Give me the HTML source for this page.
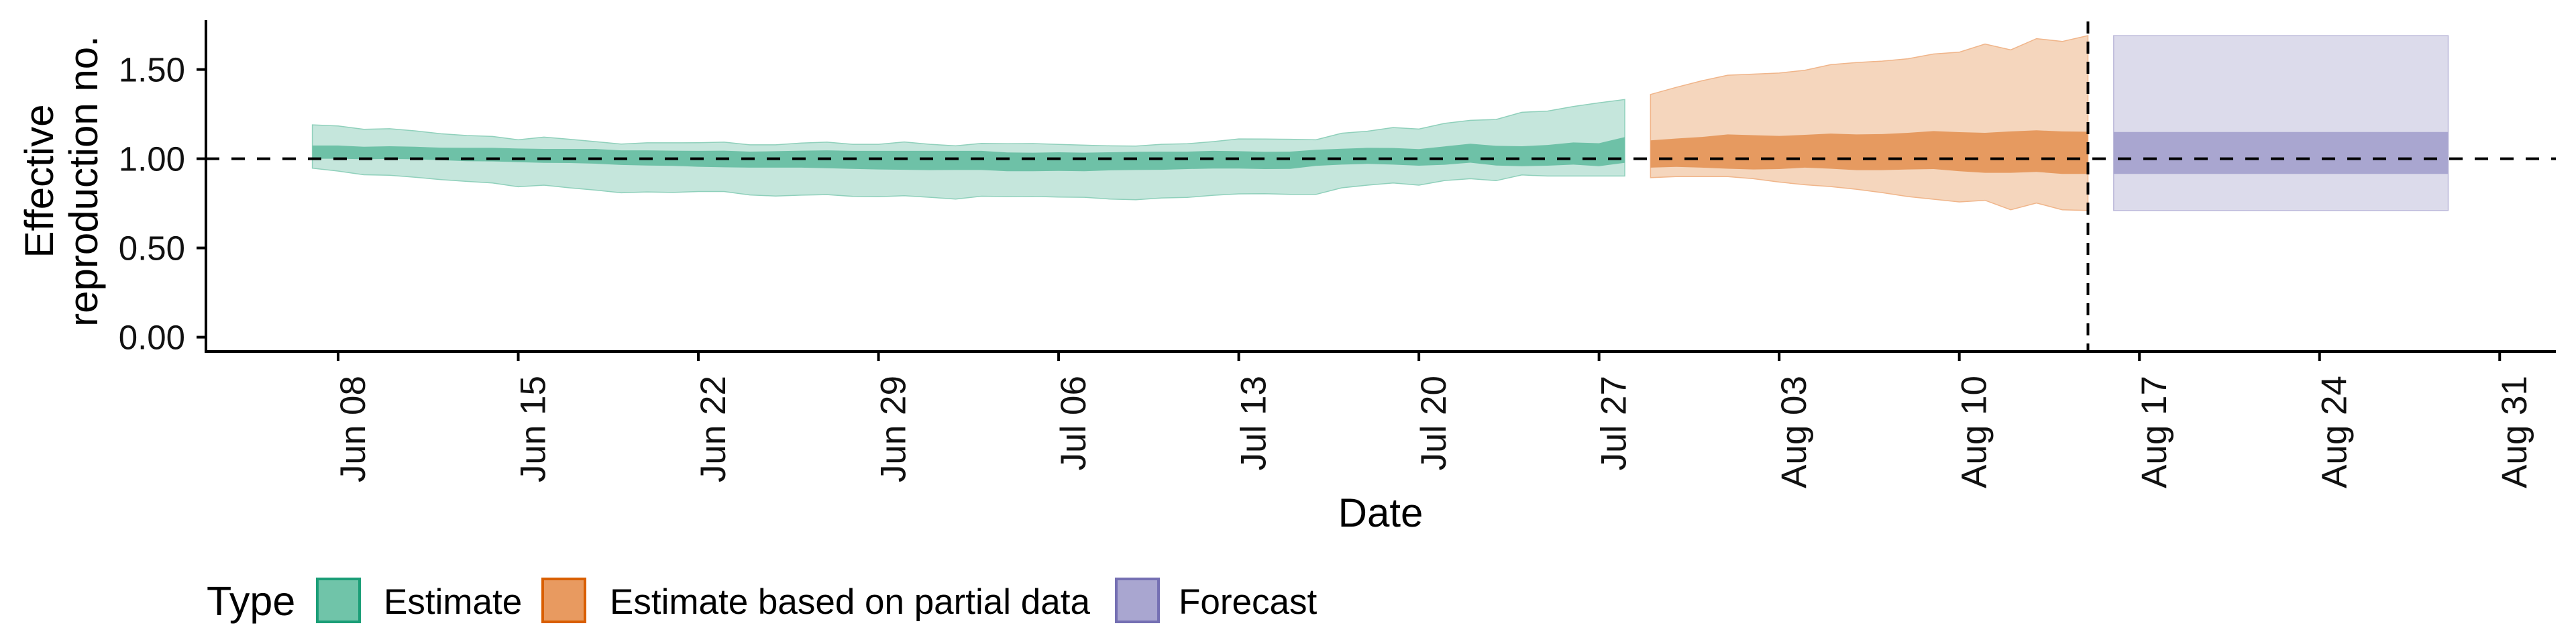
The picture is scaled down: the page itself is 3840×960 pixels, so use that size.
<!DOCTYPE html>
<html><head><meta charset="utf-8"><style>
html,body{margin:0;padding:0;background:#fff;}
svg{display:block;font-family:"Liberation Sans",sans-serif;}
</style></head><body>
<svg id="chart" width="3840" height="960" viewBox="0 0 3840 960" xmlns="http://www.w3.org/2000/svg">
<g id="bands"></g>
<g id="axes"></g>
<text x="2058" y="785" font-size="60" text-anchor="middle">Date</text>
<text transform="translate(79,270) rotate(-90)" font-size="60" text-anchor="middle">Effective</text>
<text transform="translate(145,270) rotate(-90)" font-size="60" text-anchor="middle">reproduction no.</text>
<g>
<text x="308" y="917" font-size="61">Type</text>
<rect x="473" y="863" width="63" height="64" fill="#70c4a9" stroke="#1b9e77" stroke-width="4"/>
<text x="572" y="915" font-size="53">Estimate</text>
<rect x="809" y="863" width="63" height="64" fill="#e89a60" stroke="#d95f02" stroke-width="4"/>
<text x="909" y="915" font-size="53">Estimate based on partial data</text>
<rect x="1664" y="863" width="63" height="64" fill="#a9a6d0" stroke="#7570b3" stroke-width="4"/>
<text x="1757" y="915" font-size="53">Forecast</text>
</g>
</svg>
<script>
// days since Jun 08
const estDays = [];
for (let d = -1; d <= 50; d++) estDays.push(d);
const estUpper90 = [1.190,1.184,1.165,1.168,1.156,1.140,1.130,1.125,1.106,1.121,1.109,1.096,1.082,1.089,1.089,1.090,1.093,1.078,1.078,1.088,1.093,
 1.081,1.081,1.094,1.081,1.072,1.086,1.084,1.085,1.080,1.076,1.072,1.071,1.081,1.084,1.096,1.111,1.110,1.109,1.106,1.143,1.154,1.175,1.166,1.198,1.215,1.220,1.260,1.267,1.293,1.313,1.332];
const estUpper50 = [1.074,1.074,1.067,1.070,1.067,1.062,1.061,1.061,1.057,1.055,1.055,1.055,1.047,1.047,1.045,1.044,1.045,1.040,1.042,1.045,1.047,
 1.044,1.044,1.044,1.044,1.044,1.044,1.035,1.034,1.036,1.034,1.036,1.039,1.040,1.040,1.044,1.042,1.039,1.040,1.050,1.056,1.061,1.060,1.054,1.069,1.084,1.072,1.070,1.077,1.091,1.087,1.121];
const estLower50 = [1.000,1.000,0.997,0.999,0.997,0.992,0.986,0.985,0.981,0.977,0.976,0.972,0.965,0.962,0.960,0.955,0.952,0.950,0.950,0.950,0.947,
 0.943,0.940,0.938,0.936,0.937,0.937,0.930,0.930,0.932,0.930,0.935,0.937,0.938,0.942,0.945,0.945,0.942,0.943,0.960,0.967,0.971,0.967,0.961,0.966,0.978,0.962,0.958,0.961,0.967,0.958,0.977];
const estLower90 = [0.947,0.931,0.910,0.907,0.896,0.883,0.873,0.864,0.843,0.852,0.837,0.824,0.809,0.814,0.811,0.816,0.816,0.797,0.791,0.796,0.799,
 0.789,0.787,0.793,0.784,0.774,0.790,0.788,0.789,0.785,0.784,0.774,0.770,0.780,0.783,0.795,0.803,0.804,0.800,0.800,0.837,0.852,0.864,0.852,0.878,0.888,0.877,0.909,0.903,0.903,0.903,0.903];
const partDays = [];
for (let d = 51; d <= 68; d++) partDays.push(d);
const partUpper90 = [1.36,1.40,1.437,1.468,1.474,1.48,1.496,1.527,1.539,1.547,1.56,1.587,1.597,1.643,1.61,1.673,1.657,1.69];
const partUpper50 = [1.103,1.113,1.122,1.136,1.132,1.128,1.134,1.141,1.136,1.138,1.145,1.155,1.149,1.145,1.153,1.159,1.153,1.151];
const partLower50 = [0.950,0.954,0.950,0.944,0.940,0.942,0.950,0.944,0.936,0.936,0.940,0.942,0.930,0.921,0.921,0.926,0.915,0.915];
const partLower90 = [0.894,0.90,0.90,0.90,0.888,0.869,0.854,0.844,0.829,0.81,0.788,0.773,0.758,0.767,0.714,0.752,0.714,0.71];
const fcDays = [];
for (let d = 69; d <= 82; d++) fcDays.push(d);
const fcUpper90 = [1.69,1.69,1.69,1.69,1.69,1.69,1.69,1.69,1.69,1.69,1.69,1.69,1.69,1.69];
const fcUpper50 = [1.15,1.15,1.15,1.15,1.15,1.15,1.15,1.15,1.15,1.15,1.15,1.15,1.15,1.15];
const fcLower50 = [0.915,0.915,0.915,0.915,0.915,0.915,0.915,0.915,0.915,0.915,0.915,0.915,0.915,0.915];
const fcLower90 = [0.71,0.71,0.71,0.71,0.71,0.71,0.71,0.71,0.71,0.71,0.71,0.71,0.71,0.71];
const xTickDays = [0,7,14,21,28,35,42,49,56,63,70,77,84];
const xTickLabels = ["Jun 08","Jun 15","Jun 22","Jun 29","Jul 06","Jul 13","Jul 20","Jul 27","Aug 03","Aug 10","Aug 17","Aug 24","Aug 31"];
const yTicks = [0, 0.5, 1, 1.5];
const yTickLabels = ["0.00","0.50","1.00","1.50"];
const refValue = 1;
const forecastStartDay = 68;

const NS = "http://www.w3.org/2000/svg";
const X0 = 307, X1 = 3810, YB = 524, YT = 30;
function xs(d){ return 504 + 38.36 * d; }
function ys(v){ return 502.6 - 266 * v; }
function mk(tag, attrs, parent){ const e = document.createElementNS(NS, tag); for (const k in attrs) e.setAttribute(k, attrs[k]); parent.appendChild(e); return e; }
const bands = document.getElementById('bands');
const axes = document.getElementById('axes');
function ribbon(days, up, lo, fill, stroke, name){
  let pts = [];
  for (let i = 0; i < days.length; i++) pts.push(xs(days[i]).toFixed(1) + ',' + ys(up[i]).toFixed(1));
  for (let i = days.length - 1; i >= 0; i--) pts.push(xs(days[i]).toFixed(1) + ',' + ys(lo[i]).toFixed(1));
  const p = mk('polygon', {points: pts.join(' '), fill: fill, stroke: stroke, 'stroke-width': stroke === 'none' ? 0 : 1.5}, bands);
  
  
}
ribbon(estDays, estUpper90, estLower90, '#c5e6dc', '#8fd0bb', 'estimate-band-90');
ribbon(estDays, estUpper50, estLower50, '#6ec1a7', 'none', 'estimate-band-50');
ribbon(partDays, partUpper90, partLower90, '#f5d6bd', '#f0b58a', 'partial-band-90');
ribbon(partDays, partUpper50, partLower50, '#e69a60', 'none', 'partial-band-50');
ribbon(fcDays, fcUpper90, fcLower90, '#dcdbeb', '#bdbadb', 'forecast-band-90');
ribbon(fcDays, fcUpper50, fcLower50, '#a9a6d0', 'none', 'forecast-band-50');

const hl = mk('line', {x1: X0, x2: X1, y1: ys(refValue), y2: ys(refValue), stroke: '#000', 'stroke-width': 4, 'stroke-dasharray': '20 18'}, axes);


const vl = mk('line', {x1: xs(forecastStartDay), x2: xs(forecastStartDay), y1: 32, y2: YB, stroke: '#000', 'stroke-width': 4, 'stroke-dasharray': '18 12'}, axes);


const xa = mk('line', {x1: X0 - 2, x2: X1, y1: YB, y2: YB, stroke: '#000', 'stroke-width': 4}, axes);


const ya = mk('line', {x1: X0, x2: X0, y1: YT, y2: YB + 2, stroke: '#000', 'stroke-width': 4}, axes);


for (let i = 0; i < yTicks.length; i++){
  const y = ys(yTicks[i]);
  const t = mk('line', {x1: X0 - 14, x2: X0, y1: y, y2: y, stroke: '#000', 'stroke-width': 4}, axes);
  
  
  const l = mk('text', {x: 276, y: y + 18, 'font-size': 51, 'text-anchor': 'end', fill: '#111'}, axes);
  l.textContent = yTickLabels[i];
  
  
}
for (let i = 0; i < xTickDays.length; i++){
  const x = xs(xTickDays[i]);
  const t = mk('line', {x1: x, x2: x, y1: YB, y2: YB + 14, stroke: '#000', 'stroke-width': 4}, axes);
  
  
  const l = mk('text', {transform: 'translate(' + (x + 40) + ',560) rotate(-90)', 'font-size': 53, 'text-anchor': 'end', fill: '#111'}, axes);
  l.textContent = xTickLabels[i];
  
  
}
</script>
</body></html>
